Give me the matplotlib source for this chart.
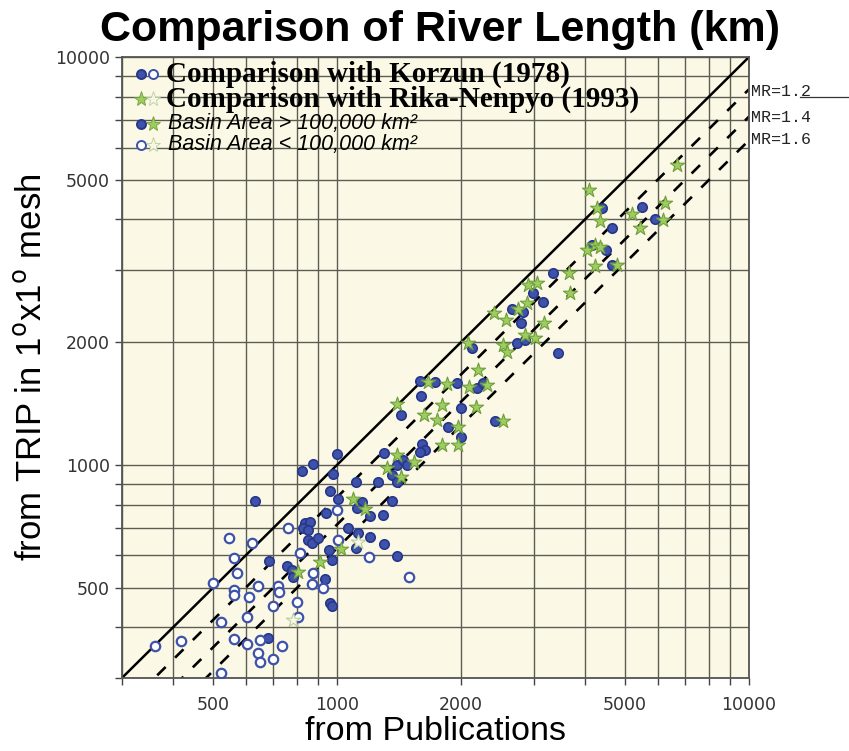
import numpy as np
import matplotlib.pyplot as plt
from matplotlib.lines import Line2D
from matplotlib.ticker import FixedLocator, NullFormatter

# Korzun (1978), basin area > 100,000 km2
korzun_big_x = [836, 860, 829, 852, 852, 868, 901, 684, 755, 777, 781, 681,
                1000, 876, 821, 980, 1300, 1606, 1636, 1590, 1396, 1448, 1477, 1358,
                1396, 1260, 1110, 962, 1004, 632, 1148, 1116, 1358, 940, 1202, 1291,
                1062, 1123, 1202, 958, 1110, 1300, 1396, 971, 935, 962, 971,
                2996, 3168, 2655, 2833, 2792, 2731, 2860, 2123, 3434,
                1590, 1729, 1952, 2183, 2265, 1597, 1996, 1430, 2418, 1863, 1996,
                4152, 4489, 4642, 3338, 4405, 4642, 5490, 5913]
korzun_big_y = [720, 726, 700, 693, 655, 643, 663, 583, 566, 553, 532, 376,
                1062, 1004, 968, 949, 1072, 1126, 1088, 1078, 1000, 1029, 1000, 945,
                910, 910, 910, 864, 824, 816, 813, 783, 818, 764, 750, 754,
                700, 680, 667, 619, 627, 639, 599, 585, 525, 460, 450,
                2644, 2505, 2412, 2375, 2225, 1994, 2025, 1939, 1878,
                1606, 1600, 1586, 1542, 1586, 1476, 1381, 1326, 1282, 1241, 1173,
                3461, 3365, 3092, 2961, 4271, 3803, 4296, 4002]

# Korzun (1978), basin area < 100,000 km2
korzun_small_x = [548, 621, 762, 562, 573, 499, 561, 561, 642, 612, 720, 724,
                  813, 876, 868, 801, 700, 604, 522, 803, 561, 604, 650, 734,
                  642, 700, 650, 523, 418, 362, 1000, 1007, 1198, 1498, 927]
korzun_small_y = [661, 645, 700, 591, 545, 515, 494, 480, 505, 474, 505, 489,
                  608, 545, 510, 461, 451, 425, 413, 425, 375, 364, 373, 361,
                  347, 334, 328, 309, 370, 359, 776, 655, 594, 532, 500]

# Rika-Nenpyo (1993), basin area > 100,000 km2
rika_big_x = [806, 909, 1092, 1169, 1401, 1320, 1430, 1538, 1023, 1396,
              1796, 2175, 1628, 1752, 2525, 1970, 1796, 1963, 1665, 1846,
              2095, 2308, 2203, 2083, 2533, 2581, 2860, 3024, 2409, 2567,
              2754, 2886, 3180, 2912, 3052, 3663, 3678, 4038, 4229, 4348,
              4229, 4774, 4097, 4268, 4348, 5191, 5437, 6194, 6253, 6676]
rika_big_y = [548, 579, 824, 780, 1058, 982, 936, 1019, 621, 1409,
              1403, 1385, 1326, 1289, 1282, 1241, 1120, 1120, 1600, 1580,
              1556, 1571, 1710, 1987, 1968, 1895, 2083, 2044, 2362, 2267,
              2408, 2499, 2225, 2762, 2788, 2961, 2644, 3365, 3461, 3428,
              3075, 3092, 4721, 4271, 3971, 4124, 3803, 3986, 4378, 5437]

# Rika-Nenpyo (1993), basin area < 100,000 km2
rika_small_x = [783, 1126]
rika_small_y = [417, 649]

mr_values = [1.2, 1.4, 1.6]
major_ticks = [500, 1000, 2000, 5000, 10000]
minor_ticks = [300, 400, 600, 700, 800, 900, 3000, 4000, 6000, 7000, 8000, 9000]

blue = '#3d52a8'
blue_edge = '#27378a'
green = '#9dcc5f'
green_edge = '#6f9e3c'
light_star = '#f7f6e8'
light_star_edge = '#b9cf9a'

fig = plt.figure(figsize=(8.49, 7.51), dpi=100)
ax = fig.add_axes([0.1432, 0.0968, 0.739, 0.8273])
ax.set_facecolor('#fbf9e6')
ax.set_xscale('log')
ax.set_yscale('log')
ax.set_xlim(300, 10000)
ax.set_ylim(300, 10000)

ax.xaxis.set_major_locator(FixedLocator(major_ticks))
ax.yaxis.set_major_locator(FixedLocator(major_ticks))
ax.xaxis.set_minor_locator(FixedLocator(minor_ticks))
ax.yaxis.set_minor_locator(FixedLocator(minor_ticks))
ax.xaxis.set_major_formatter(plt.FuncFormatter(lambda v, p: '%d' % v))
ax.yaxis.set_major_formatter(plt.FuncFormatter(lambda v, p: '%d' % v))
ax.xaxis.set_minor_formatter(NullFormatter())
ax.yaxis.set_minor_formatter(NullFormatter())
ax.grid(True, which='both', color='#5e5c50', lw=1.0)
ax.set_axisbelow(True)
ax.tick_params(which='both', direction='out', length=5, width=1, color='#444444',
               labelsize=12.5, labelcolor='#333333')
ax.tick_params(axis='x', pad=8)
for s in ax.spines.values():
    s.set_color('#555555')
    s.set_linewidth(1.3)

# 1:1 line and mean ratio lines
line_x = np.array([300, 10000])
ax.plot(line_x, line_x, color='black', lw=1.8, zorder=2)
for mr in mr_values:
    ax.plot(line_x, line_x / mr, color='black', lw=1.9, ls=(0, (4.5, 5)), zorder=2)

ax.scatter(korzun_big_x, korzun_big_y, s=46, marker='o', facecolor=blue,
           edgecolor=blue_edge, linewidth=1.2, zorder=3)
ax.scatter(korzun_small_x, korzun_small_y, s=46, marker='o', facecolor='white',
           edgecolor=blue, linewidth=1.6, zorder=3)
ax.scatter(rika_big_x, rika_big_y, s=115, marker='*', facecolor=green,
           edgecolor=green_edge, linewidth=0.8, zorder=4)
ax.scatter(rika_small_x, rika_small_y, s=115, marker='*', facecolor=light_star,
           edgecolor=light_star_edge, linewidth=0.8, zorder=4)

# MR labels outside right edge
for mr, yy in zip(mr_values, [92, 118, 140]):
    fig.text(751 / 849, 1 - yy / 751, 'MR=%.1f' % mr, family='Liberation Mono',
             fontsize=12, va='center', ha='left', color='#222222')
fig.add_artist(Line2D([800 / 849, 1.0], [1 - 97 / 751] * 2, color='#333333', lw=0.9))

# legend drawn by hand: two symbols + label per row
rows_y = [0.9726, 0.9324, 0.8922, 0.8584]
row_symbols = [
    [('o', blue, blue_edge, 6.5), ('o', 'white', blue, 6.5)],
    [('*', green, green_edge, 11), ('*', light_star, light_star_edge, 11)],
    [('o', blue, blue_edge, 6.5), ('*', green, green_edge, 11)],
    [('o', 'white', blue, 6.5), ('*', light_star, light_star_edge, 11)],
]
labels = ['Comparison with Korzun (1978)', 'Comparison with Rika-Nenpyo (1993)',
          'Basin Area > 100,000 km²', 'Basin Area < 100,000 km²']
for i, (yy, syms, lab) in enumerate(zip(rows_y, row_symbols, labels)):
    for xx, (m, fc, ec, ms) in zip([0.031, 0.05], syms):
        ax.plot([xx], [yy], marker=m, ls='', ms=ms, mfc=fc, mec=ec,
                mew=1.4 if m == 'o' else 0.6, transform=ax.transAxes, clip_on=False,
                zorder=5)
    if i < 2:
        ax.text(0.0715, yy, lab, transform=ax.transAxes, va='center', ha='left',
                family='Liberation Serif', fontweight='bold', fontsize=21, zorder=5)
    else:
        ax.text(0.0745, yy, lab, transform=ax.transAxes, va='center', ha='left',
                family='Liberation Sans', fontstyle='italic', fontsize=15.5, zorder=5)

ax.set_xlabel('from Publications', fontsize=24.5, family='Liberation Sans', labelpad=1)
ax.set_ylabel(r'from TRIP in 1$^{\rm o}$x1$^{\rm o}$ mesh', fontsize=25,
              family='Liberation Sans', labelpad=5)
fig.text(0.518, 0.96, 'Comparison of River Length (km)', ha='center', va='center',
         fontsize=31, fontweight='bold', family='Liberation Sans')

plt.savefig('out.png', dpi=100)
